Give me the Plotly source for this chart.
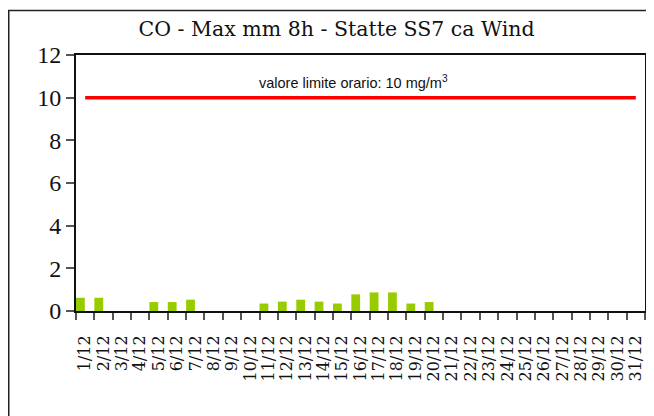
import plotly.graph_objects as go

days = [f"{d}/12" for d in range(1, 32)]
co_values = [0.62, 0.62, 0, 0, 0.42, 0.42, 0.53, 0, 0, 0,
             0.35, 0.44, 0.53, 0.44, 0.35, 0.78, 0.87, 0.87, 0.35, 0.42,
             0, 0, 0, 0, 0, 0, 0, 0, 0, 0, 0]
limit_value = 10
limit_series = [limit_value] * len(days)
y_ticks = [0, 2, 4, 6, 8, 10, 12]

fig = go.Figure()
fig.add_trace(go.Bar(x=days, y=co_values, marker_color="#99CC00",
                     marker_line_width=0, width=0.48, offset=-0.5))
fig.add_trace(go.Scatter(x=days, y=limit_series, mode="lines",
                         line=dict(color="#FF0000", width=3.5)))

fig.add_annotation(x=0.487, xref="paper", y=10.75, yref="y",
                   text="valore limite orario: 10 mg/m<sup>3</sup>",
                   showarrow=False,
                   font=dict(family="Liberation Sans, Arial", size=14.5, color="#111"))

# outer frame
fig.add_shape(type="rect", xref="paper", yref="paper",
              x0=-0.1182, x1=1.2, y0=-0.5, y1=1.1735,
              line=dict(color="#222", width=1.5), layer="below")

fig.update_layout(
    width=646, height=408,
    margin=dict(l=68, r=9, t=46.5, b=105, autoexpand=False),
    paper_bgcolor="white", plot_bgcolor="white",
    showlegend=False,
    title=dict(text="CO - Max mm 8h - Statte SS7 ca Wind",
               x=0.5087, xref="container", xanchor="center",
               y=0.9485, yref="container", yanchor="middle",
               font=dict(family="DejaVu Serif", size=20.5, color="#111")),
)
fig.update_xaxes(
    type="category", tickangle=-90, tickson="boundaries",
    tickmode="array", tickvals=days, ticktext=days,
    ticks="outside", ticklen=7, tickcolor="#555", tickwidth=1.5,
    ticklabelstandoff=16,
    showline=True, linecolor="#111", linewidth=2, mirror=True,
    showgrid=False, automargin=False,
    tickfont=dict(family="DejaVu Serif", size=16, color="#111"),
)
fig.update_yaxes(
    range=[0, 12], tickvals=y_ticks,
    ticks="outside", ticklen=8, tickcolor="#555", tickwidth=1.5,
    showline=True, linecolor="#111", linewidth=2, mirror=True,
    showgrid=False, zeroline=False, automargin=False,
    tickfont=dict(family="Liberation Serif", size=24, color="#111"),
)

fig.write_html("out.html")
